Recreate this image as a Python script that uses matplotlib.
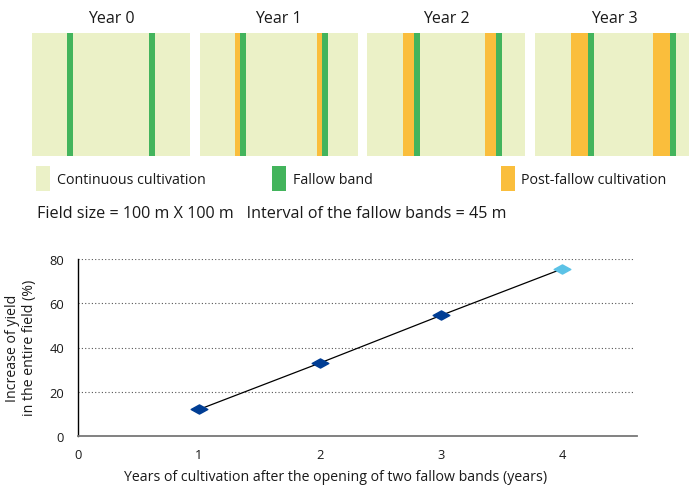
import numpy as np
import matplotlib
matplotlib.use("Agg")
import matplotlib.pyplot as plt
from matplotlib.patches import Rectangle
from matplotlib.path import Path

plt.rcParams['font.family'] = ['Open Sans', 'DejaVu Sans']

# field panels (positions in m across a 100 m field)
years = [0, 1, 2, 3]
fallow_left = [22.2, 25.6, 29.6, 33.5]   # left edge of the first fallow band
post_fallow_left = 22.5                  # post-fallow strip begins where the band opened
band_width = 3.8
band_gap = 51.9

# yield chart
cult_years = [1, 2, 3, 4]
yield_increase = [12, 33, 54.5, 75.5]

legend_labels = ["Continuous cultivation", "Fallow band", "Post-fallow cultivation"]
info_text = "Field size = 100 m X 100 m   Interval of the fallow bands = 45 m"

c_cont = "#ebf1c7"
c_fallow = "#43b45c"
c_post = "#fabe3c"
c_dark = "#003d94"
c_light = "#5bc2e6"
c_text = "#1a1a1a"

W, H = 689, 489
fig = plt.figure(figsize=(W / 100, H / 100), dpi=100)


def fx(x):
    return x / W


def fy(y):
    return 1 - y / H


# --- field panels ---
for i, yr in enumerate(years):
    left = 32 + 167.7 * i
    ax = fig.add_axes([fx(left), fy(157), 158 / W, 123 / H])
    ax.set_xlim(0, 100)
    ax.set_ylim(0, 1)
    ax.axis('off')
    ax.axvspan(0, 100, color=c_cont, lw=0)
    for off in [0, band_gap]:
        start = fallow_left[i] + off
        if yr > 0:
            ax.axvspan(post_fallow_left + off, start, color=c_post, lw=0)
        ax.axvspan(start, start + band_width, color=c_fallow, lw=0)
    fig.text(fx(left + 79), fy(19), f"Year {yr}", ha='center', va='center',
             fontsize=11.5, color=c_text)

# --- legend ---
swatches = [(36, c_cont), (272, c_fallow), (501, c_post)]
text_x = [57, 293, 521]
for (sx, col), tx, lab in zip(swatches, text_x, legend_labels):
    fig.add_artist(Rectangle((fx(sx), fy(192)), 14 / W, 25 / H, color=col,
                             transform=fig.transFigure, lw=0))
    fig.text(fx(tx), fy(181), lab, ha='left', va='center', fontsize=10.3,
             color=c_text)

fig.text(fx(37), fy(214), info_text, ha='left', va='center', fontsize=11.6,
         color=c_text)

# --- yield chart ---
ax = fig.add_axes([fx(78), fy(437), (637 - 78) / W, (437 - 260) / H])
ax.set_xlim(0, 4.62)
ax.set_ylim(0, 80)
ax.set_xticks([0, 1, 2, 3, 4])
ax.set_yticks([0, 20, 40, 60, 80])
ax.tick_params(length=0, labelsize=9.3, colors=c_text)
ax.tick_params(axis='y', pad=10)
ax.tick_params(axis='x', pad=9)
for s in ['top', 'right']:
    ax.spines[s].set_visible(False)
ax.spines['left'].set_color('black')
ax.spines['left'].set_linewidth(1)
ax.spines['bottom'].set_color('#777777')
ax.spines['bottom'].set_linewidth(1.3)
for v in [20, 40, 60, 80]:
    ax.axhline(v, xmax=0.993, color='#555555', lw=0.8, ls=(0, (1, 2)), zorder=1)

diamond = Path([(-1, 0), (0, 0.55), (1, 0), (0, -0.55), (-1, 0)],
               [Path.MOVETO, Path.LINETO, Path.LINETO, Path.LINETO, Path.CLOSEPOLY])
ax.plot(cult_years, yield_increase, color='black', lw=0.9, zorder=2)
colors = [c_dark] * (len(cult_years) - 1) + [c_light]
for xv, yv, col in zip(cult_years, yield_increase, colors):
    ax.plot(xv, yv, marker=diamond, ms=12, color=col, mec=col, zorder=3)

fig.text(fx(21), fy(348), "Increase of yield\nin the entire field (%)",
         rotation=90, ha='center', va='center', multialignment='center',
         fontsize=10.2, color=c_text, linespacing=1.1)
fig.text(fx(336), fy(478),
         "Years of cultivation after the opening of two fallow bands (years)",
         ha='center', va='center', fontsize=10.2, color=c_text)

fig.savefig("out.png", dpi=100)
